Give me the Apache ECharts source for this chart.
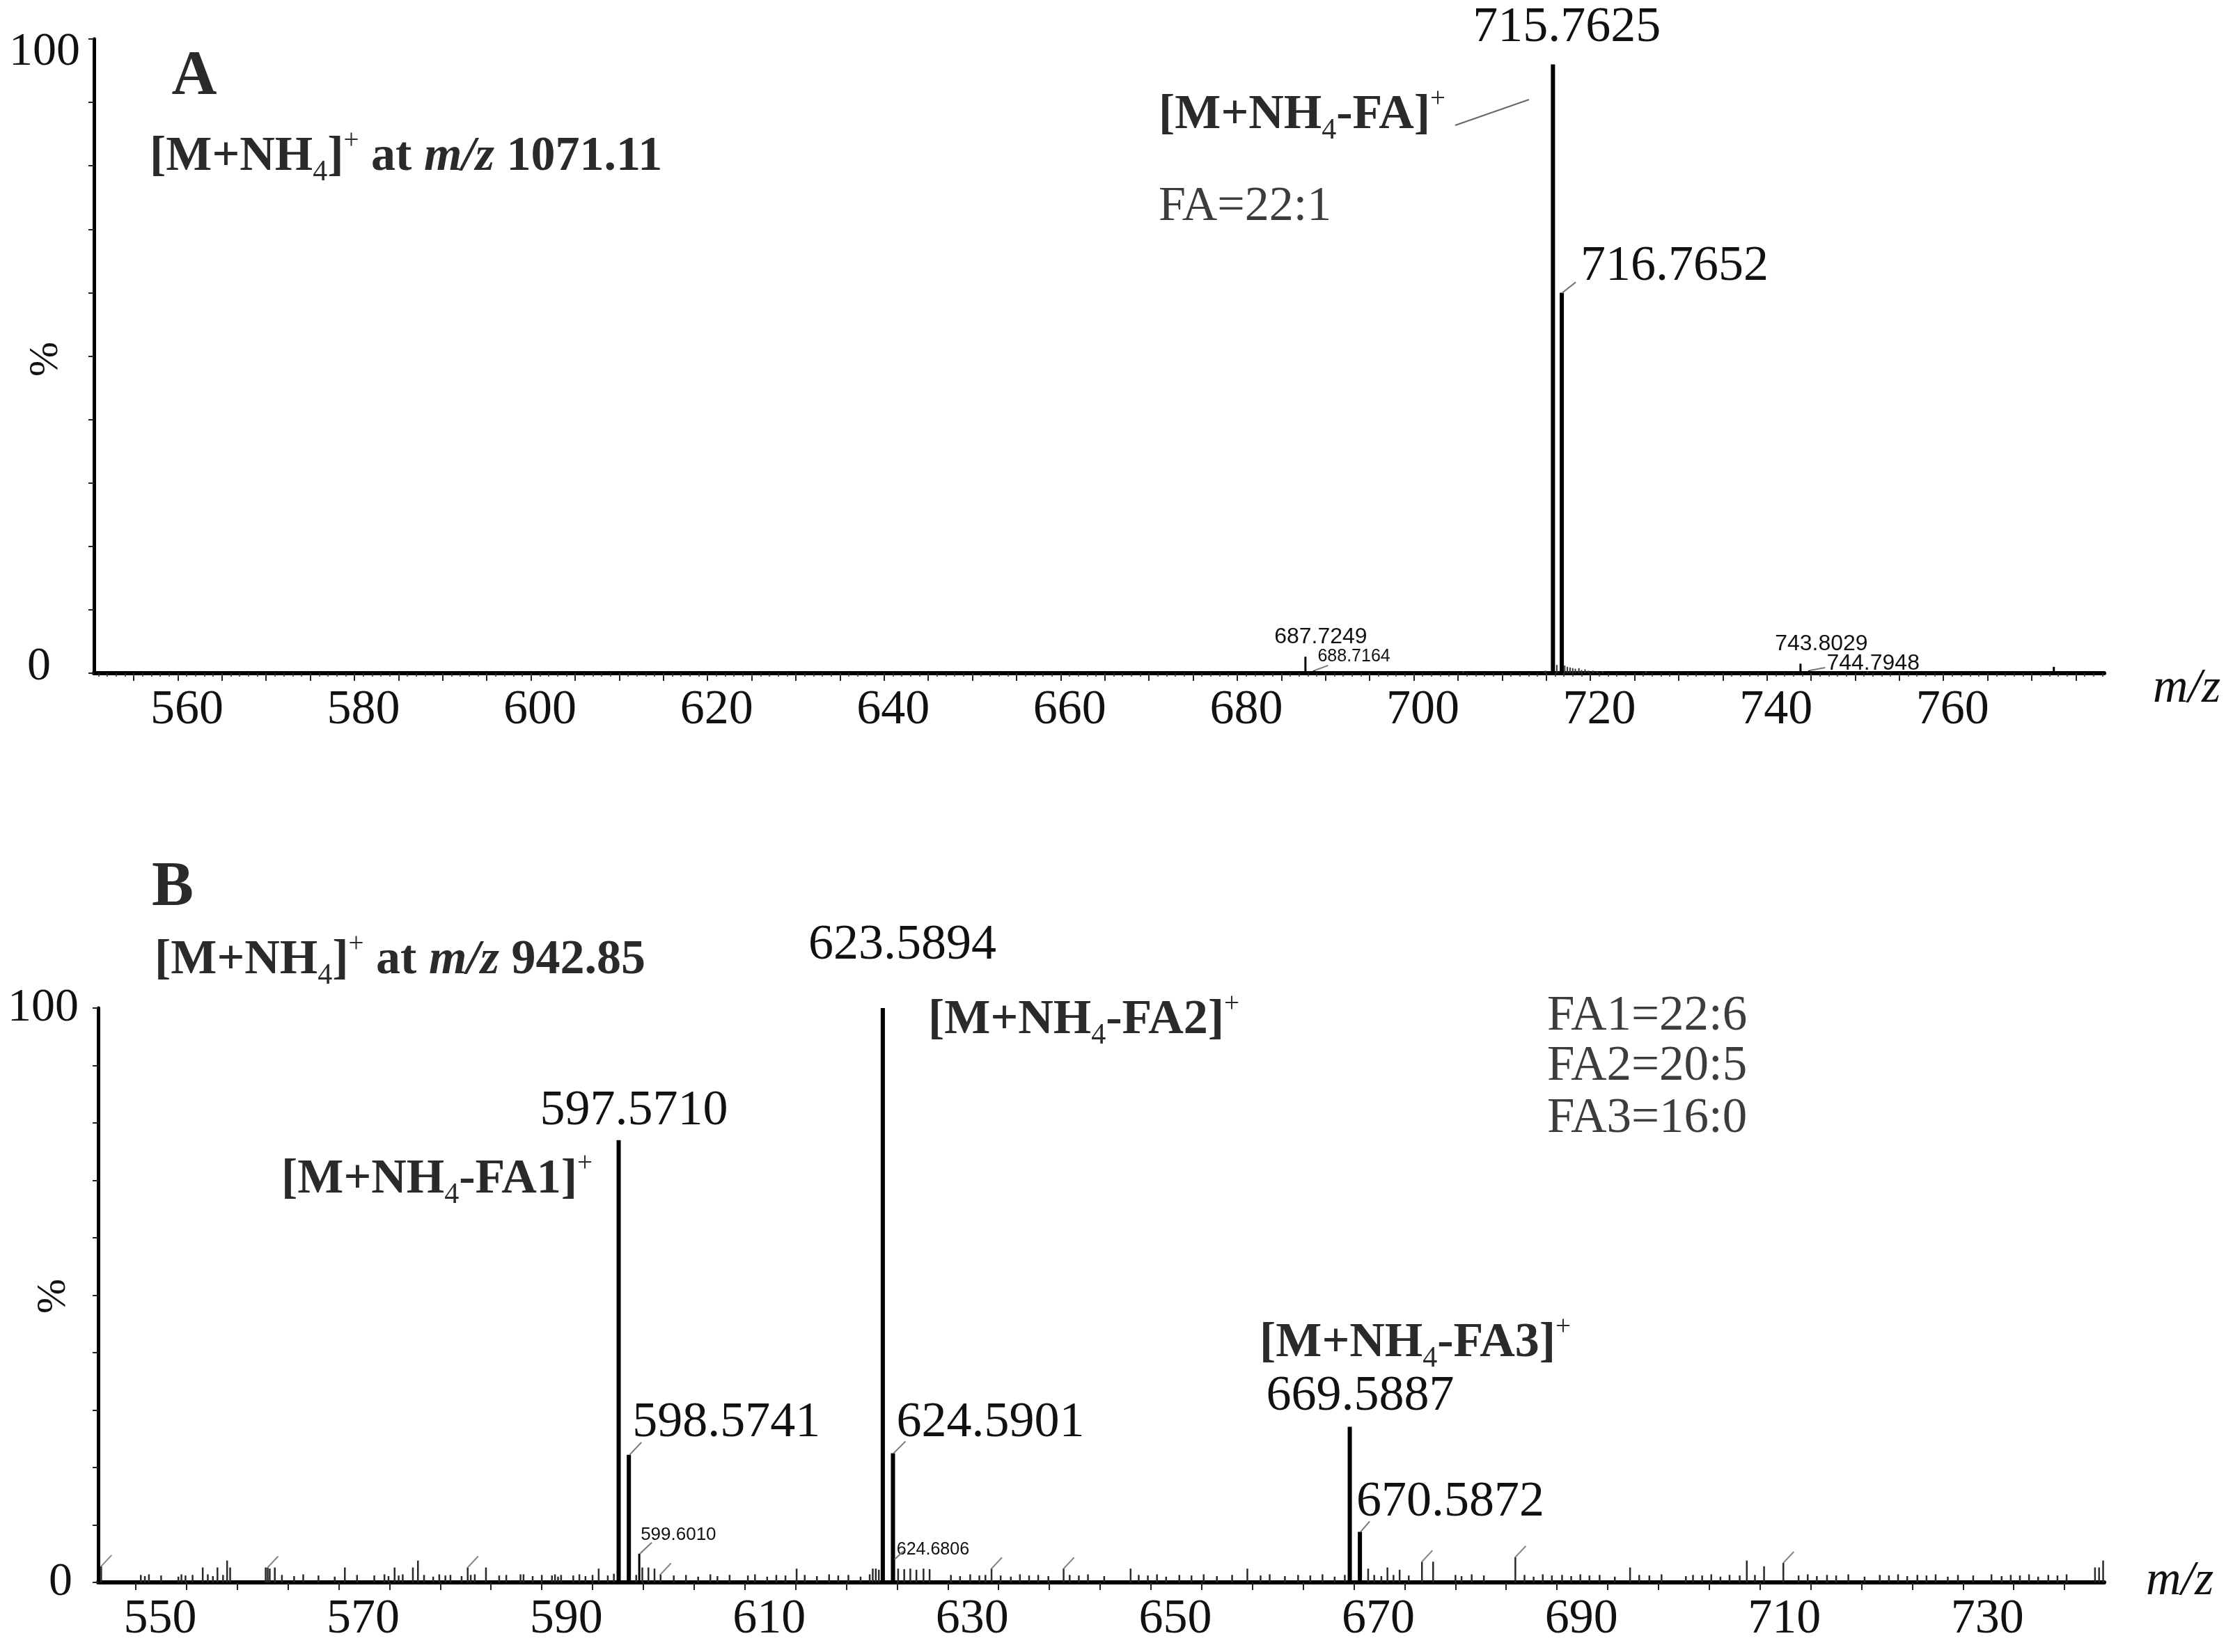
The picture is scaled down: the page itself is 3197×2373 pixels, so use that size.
<!DOCTYPE html>
<html><head><meta charset="utf-8">
<script src="https://cdn.jsdelivr.net/npm/echarts@6/dist/echarts.min.js"></script>
<style>html,body{margin:0;padding:0;background:#fff}#c{width:3197px;height:2373px}</style>
</head><body><div id="c"></div>
<script>
// ================= DATA =================
// Panel A axis
const xLabelsA = [560, 580, 600, 620, 640, 660, 680, 700, 720, 740, 760];
const xRangeA = [550.5, 778.2];
// Panel B axis
const xLabelsB = [550, 570, 590, 610, 630, 650, 670, 690, 710, 730];
const xRangeB = [546.3, 743.9];
const yLabels = [0, 100];

// Panel A peaks (m/z, relative intensity %)
const majorA_mz  = [715.7625, 716.7652];
const majorA_int = [96, 60];
const minorA_mz  = [687.7249, 688.7164, 743.8029, 744.7948, 772.5];
const minorA_int = [2.6, 0.45, 1.5, 0.45, 1.0];
const noiseA_mz  = [705.6, 714.9, 716.2, 717.1, 717.4, 717.7, 718.0, 718.3, 718.7, 719.0, 719.4, 719.8, 720.3, 720.8, 721.4, 726.3, 751.4];
const noiseA_int = [0.3, 0.4, 1.3, 1.2, 1.0, 0.9, 0.8, 0.7, 0.8, 0.5, 0.6, 0.4, 0.4, 0.3, 0.3, 0.3, 0.3];
const labelsA_mz   = [715.7625, 716.7652, 687.7249, 688.7164, 743.8029, 744.7948];
const labelsA_int  = [96, 60, 2.6, 0.45, 1.5, 0.45];
const labelsA_text = ['715.7625', '716.7652', '687.7249', '688.7164', '743.8029', '744.7948'];

// Panel B peaks
const majorB_mz  = [597.5710, 598.5741, 623.5894, 624.5901, 669.5887, 670.5872];
const majorB_int = [77, 22.2, 100, 22.5, 27.1, 8.8];
const minorB_mz  = [599.6010, 624.6806];
const minorB_int = [5.0, 4.0];
const noiseB_mz = [
  546.6, 550.5, 550.9, 551.3, 552.5, 554.2, 554.5, 554.9, 555.6, 556.6, 557.1, 557.6, 558.05, 558.6, 559.0, 559.3,
  562.8, 563.0, 563.2, 563.7, 564.4, 565.6, 566.5, 568.0, 569.6, 570.6, 571.8, 573.5, 574.5, 574.9, 575.5, 575.9,
  576.3, 577.3, 577.8, 578.4, 579.3, 579.9, 580.5, 581.0, 582.1, 582.7, 583.0, 583.4, 584.5, 585.8, 586.5, 587.9,
  588.2, 589.1, 590.0, 591.0, 591.3, 591.6, 591.9, 593.1, 593.7, 594.3, 595.0, 595.6, 596.5, 597.1, 599.3, 599.9,
  600.5, 601.1, 601.7, 603.0, 604.2, 605.4, 606.6, 607.3, 608.5, 610.3, 611.0, 612.2, 613.1, 614.0, 615.1, 615.9,
  617.1, 618.3, 619.2, 620.2, 621.4, 622.3, 622.6, 622.9, 623.2, 625.1, 625.7, 626.3, 626.9, 627.6, 628.2, 630.3,
  631.2, 632.2, 633.1, 633.7, 634.3, 635.2, 636.2, 637.1, 638.0, 638.9, 639.9, 641.4, 642.0, 642.9, 643.8, 645.4,
  648.0, 648.8, 649.7, 650.6, 651.5, 652.8, 654.0, 655.2, 656.5, 658.0, 659.5, 660.8, 661.7, 663.2, 664.5, 665.7,
  666.9, 668.1, 669.1, 671.4, 672.0, 672.7, 673.3, 673.9, 674.5, 675.4, 676.7, 677.8, 680.0, 680.6, 681.6, 682.8,
  685.9, 686.8, 687.7, 688.6, 689.5, 690.5, 691.4, 692.3, 693.2, 694.2, 695.7, 697.2, 698.1, 699.1, 700.3, 702.7,
  703.4, 704.3, 705.2, 706.1, 707.0, 708.0, 708.7, 709.5, 710.4, 712.3, 713.8, 714.7, 715.6, 716.6, 717.5, 718.7,
  720.3, 721.8, 722.7, 723.6, 724.5, 725.5, 726.4, 727.3, 728.5, 729.5, 731.0, 732.8, 733.8, 734.7, 735.6, 736.5,
  737.4, 738.4, 739.3, 740.2, 743.0, 743.4, 743.8
];
const noiseB_int = [
  2.8, 1.3, 1.1, 1.4, 1.2, 1.0, 1.4, 1.2, 1.3, 2.6, 1.4, 1.1, 2.6, 1.3, 3.8, 2.6,
  2.6, 2.6, 2.4, 2.6, 1.3, 1.1, 1.4, 1.2, 1.0, 2.6, 1.3, 1.2, 1.4, 1.1, 2.6, 1.2,
  1.4, 2.6, 3.8, 1.3, 1.0, 1.4, 1.2, 1.3, 1.1, 2.6, 1.3, 1.4, 2.6, 1.2, 1.3, 1.4,
  1.4, 1.1, 1.3, 1.2, 1.4, 1.0, 1.3, 1.2, 1.4, 1.1, 1.3, 2.4, 1.2, 1.5, 1.3, 2.6,
  2.6, 2.4, 1.4, 1.2, 1.3, 1.0, 1.4, 1.1, 1.3, 1.2, 1.4, 1.0, 1.3, 1.2, 2.4, 1.3,
  1.1, 1.4, 1.2, 1.3, 1.0, 1.4, 2.4, 2.4, 2.2, 2.4, 2.3, 2.4, 2.2, 2.4, 2.3, 1.3,
  1.1, 1.4, 1.2, 1.3, 2.4, 1.2, 1.0, 1.4, 1.2, 1.3, 1.1, 2.4, 1.3, 1.2, 1.4, 1.1,
  2.4, 1.3, 1.2, 1.4, 1.0, 1.3, 1.2, 1.4, 1.1, 1.3, 2.4, 1.2, 1.4, 1.1, 1.3, 1.2,
  1.4, 1.0, 1.3, 2.4, 1.3, 1.1, 2.6, 1.3, 2.2, 1.2, 3.6, 3.6, 1.3, 1.1, 1.4, 1.2,
  4.4, 1.3, 1.0, 1.4, 1.2, 1.3, 1.1, 1.4, 1.2, 1.3, 1.0, 2.6, 1.3, 1.2, 1.4, 1.1,
  1.3, 1.2, 1.4, 1.0, 1.3, 1.2, 3.8, 1.3, 2.8, 3.4, 1.2, 1.4, 1.1, 1.3, 1.2, 1.4,
  1.0, 1.3, 1.2, 1.4, 1.1, 1.3, 1.2, 1.4, 1.0, 1.3, 1.2, 1.4, 1.1, 1.3, 1.2, 1.4,
  1.0, 1.3, 1.2, 1.4, 2.6, 2.6, 3.8
];
const leadersB_mz = [546.6, 563.0, 582.7, 601.7, 634.3, 641.4, 676.7, 685.9, 712.3];
const labelsB_mz   = [597.5710, 598.5741, 599.6010, 623.5894, 624.5901, 624.6806, 669.5887, 670.5872];
const labelsB_int  = [77, 22.2, 5.0, 100, 22.5, 4.0, 27.1, 8.8];
const labelsB_text = ['597.5710', '598.5741', '599.6010', '623.5894', '624.5901', '624.6806', '669.5887', '670.5872'];

// ================= STYLE / LAYOUT =================
const SERIF = '"Liberation Serif", "Times New Roman", serif';
const SANS = '"Liberation Sans", Arial, sans-serif';
const gridA = {left: 135, right: 175, top: 56, bottom: 1406, containLabel: false, outerBoundsMode: 'none'};
const gridB = {left: 141, right: 175, top: 1448, bottom: 100, containLabel: false, outerBoundsMode: 'none'};

const labelLayoutA = [
  {dx: 20, dy: -52, align: 'center', size: 72, font: SERIF},
  {dx: 27, dy: -37, align: 'left', size: 72, font: SERIF, leader: [20, -15]},
  {dx: 22, dy: -28, align: 'center', size: 32, font: SANS},
  {dx: 5, dy: -20, align: 'left', size: 25, font: SANS, leader: [20, -7]},
  {dx: 30, dy: -28, align: 'center', size: 32, font: SANS},
  {dx: 25, dy: -10, align: 'left', size: 32, font: SANS, leader: [23, -4]}
];
const labelLayoutB = [
  {dx: 22, dy: -42, align: 'center', size: 72, font: SERIF},
  {dx: 5, dy: -46, align: 'left', size: 72, font: SERIF, leader: [18, -18]},
  {dx: 2, dy: -27, align: 'left', size: 26, font: SANS, leader: [18, -16]},
  {dx: 28, dy: -90, align: 'center', size: 72, font: SERIF},
  {dx: 5, dy: -43, align: 'left', size: 72, font: SERIF, leader: [18, -17]},
  {dx: 4, dy: -14, align: 'left', size: 25, font: SANS, leader: [14, -12]},
  {dx: 15, dy: -43, align: 'center', size: 72, font: SERIF},
  {dx: -5, dy: -42, align: 'left', size: 72, font: SERIF, leader: [14, -15]}
];

function zip(a, b) { return a.map((v, i) => [v, b[i]]); }
function range(a, b, s) { const r = []; for (let v = a; v <= b + 1e-9; v += s) r.push(+v.toFixed(3)); return r; }

function stick(width, color) {
  return function (params, api) {
    const x = api.value(0), y = api.value(1);
    const p0 = api.coord([x, 0]), p1 = api.coord([x, y]);
    return {type: 'line', shape: {x1: p0[0], y1: p0[1], x2: p1[0], y2: p1[1]},
      style: {stroke: color, lineWidth: width}};
  };
}
function labeler(texts, layout) {
  return function (params, api) {
    const i = params.dataIndex;
    const L = layout[i];
    const p = api.coord([api.value(0), api.value(1)]);
    const children = [{
      type: 'text', x: p[0] + L.dx, y: p[1] + L.dy,
      style: {text: texts[i], fontSize: L.size, fontFamily: L.font, fill: '#111',
        align: L.align, verticalAlign: 'middle'}
    }];
    if (L.leader) {
      children.push({type: 'line', shape: {x1: p[0] + 1, y1: p[1], x2: p[0] + L.leader[0], y2: p[1] + L.leader[1]},
        style: {stroke: '#777', lineWidth: 2}});
    }
    return {type: 'group', children};
  };
}
function leader(params, api) {
  const p = api.coord([api.value(0), api.value(1)]);
  return {type: 'line', shape: {x1: p[0], y1: p[1], x2: p[0] + 15, y2: p[1] - 16},
    style: {stroke: '#888', lineWidth: 2}};
}
function lookup(mzs, mzArr, intArr) {
  return mzs.map(m => { const i = mzArr.indexOf(m); return [m, intArr[i]]; });
}

function xAxisMain(gridIndex, rng, labels, tickVals, labelShift) {
  return {
    type: 'value', gridIndex, min: rng[0], max: rng[1], position: 'bottom',
    axisLine: {show: true, onZero: false, lineStyle: {color: '#000', width: 6}},
    axisTick: {show: true, customValues: tickVals, length: 11, lineStyle: {color: '#222', width: 2}},
    axisLabel: {show: true, customValues: labels, margin: 19, hideOverlap: false,
      formatter: v => '{v|' + v + '}',
      rich: {v: {fontSize: 70, fontFamily: SERIF, color: '#111', padding: [0, 0, 0, labelShift], lineHeight: 70}}},
    splitLine: {show: false}
  };
}
function xAxisMinor(gridIndex, rng, vals) {
  return {
    type: 'value', gridIndex, min: rng[0], max: rng[1], position: 'bottom',
    axisLine: {show: false}, axisLabel: {show: false}, splitLine: {show: false},
    axisTick: {show: true, customValues: vals, length: 5, lineStyle: {color: '#333', width: 1.5}}
  };
}
function yAxis(gridIndex, margin, rich) {
  return {
    type: 'value', gridIndex, min: 0, max: 100, interval: 10,
    axisLine: {show: true, lineStyle: {color: '#000', width: 5}},
    axisTick: {show: true, length: 8, lineStyle: {color: '#222', width: 2}},
    splitLine: {show: false},
    axisLabel: {show: true, margin, align: 'center',
      formatter: v => v === 100 ? '{t|100}' : (v === 0 ? '{z|0}' : ''), rich}
  };
}
const yFont = {fontSize: 68, fontFamily: SERIF, color: '#111'};

function richLabel(x, y, parts, size) {
  const lh = size + 16;
  return {
    type: 'text', x, y, z: 100,
    style: {
      text: parts, verticalAlign: 'middle', align: 'left',
      rich: {
        b: {fontSize: size, fontFamily: SERIF, fontWeight: 'bold', fill: '#2a2a2a', lineHeight: lh, verticalAlign: 'middle'},
        bi: {fontSize: size, fontFamily: SERIF, fontWeight: 'bold', fontStyle: 'italic', fill: '#2a2a2a', lineHeight: lh, verticalAlign: 'middle'},
        sub: {fontSize: Math.round(size * 0.6), fontFamily: SERIF, fill: '#2a2a2a', verticalAlign: 'bottom', lineHeight: Math.round(size * 0.6)},
        sup: {fontSize: Math.round(size * 0.55), fontFamily: SERIF, fill: '#2a2a2a', verticalAlign: 'top', lineHeight: Math.round(size * 0.55)}
      }
    }
  };
}
function plainText(x, y, text, size, color, weight, align, style) {
  return {type: 'text', x, y, z: 100,
    style: {text, fontSize: size, fontFamily: SERIF, fontWeight: weight || 'normal', fontStyle: style || 'normal', fill: color,
      align: align || 'left', verticalAlign: 'middle'}};
}
function yName(x, y) {
  return {type: 'text', x, y, rotation: Math.PI / 2, z: 100,
    style: {text: '%', fontSize: 60, fontFamily: SERIF, fill: '#111', align: 'center', verticalAlign: 'middle'}};
}

const option = {
  animation: false,
  backgroundColor: '#fff',
  grid: [gridA, gridB],
  xAxis: [
    xAxisMain(0, xRangeA, xLabelsA, range(555, 775, 5), 26),
    xAxisMinor(0, xRangeA, range(551, 778, 1)),
    xAxisMain(1, xRangeB, xLabelsB, range(550, 740, 5), 70)
  ],
  yAxis: [
    yAxis(0, 71, {t: Object.assign({padding: [38, 0, 0, 0]}, yFont), z: Object.assign({padding: [0, 16, 18, 0]}, yFont)}),
    yAxis(1, 79, {t: Object.assign({padding: [0, 0, 0, 0]}, yFont), z: Object.assign({padding: [0, 0, 0, 50]}, yFont)})
  ],
  series: [
    {type: 'custom', xAxisIndex: 0, yAxisIndex: 0, renderItem: stick(2, '#333'), data: zip(noiseA_mz, noiseA_int), z: 2},
    {type: 'custom', xAxisIndex: 0, yAxisIndex: 0, renderItem: stick(3, '#000'), data: zip(minorA_mz, minorA_int), z: 3},
    {type: 'custom', xAxisIndex: 0, yAxisIndex: 0, renderItem: stick(6, '#000'), data: zip(majorA_mz, majorA_int), z: 4},
    {type: 'custom', xAxisIndex: 0, yAxisIndex: 0, renderItem: labeler(labelsA_text, labelLayoutA), data: zip(labelsA_mz, labelsA_int), z: 5},
    {type: 'custom', xAxisIndex: 2, yAxisIndex: 1, renderItem: stick(2.5, '#2a2a2a'), data: zip(noiseB_mz, noiseB_int), z: 2},
    {type: 'custom', xAxisIndex: 2, yAxisIndex: 1, renderItem: leader, data: lookup(leadersB_mz, noiseB_mz, noiseB_int), z: 2},
    {type: 'custom', xAxisIndex: 2, yAxisIndex: 1, renderItem: stick(3, '#000'), data: zip(minorB_mz, minorB_int), z: 3},
    {type: 'custom', xAxisIndex: 2, yAxisIndex: 1, renderItem: stick(6, '#000'), data: zip(majorB_mz, majorB_int), z: 4},
    {type: 'custom', xAxisIndex: 2, yAxisIndex: 1, renderItem: labeler(labelsB_text, labelLayoutB), data: zip(labelsB_mz, labelsB_int), z: 5}
  ],
  graphic: [
    yName(66, 516),
    yName(77, 1862),
    plainText(279, 112, 'A', 90, '#2a2a2a', 'bold', 'center'),
    richLabel(215, 226, '{b|[M+NH}{sub|4}{b|]}{sup|+}{b| at }{bi|m/z}{b| 1071.11}', 70),
    richLabel(1664, 166, '{b|[M+NH}{sub|4}{b|-FA]}{sup|+}', 70),
    {type: 'line', z: 100, shape: {x1: 2090, y1: 180, x2: 2196, y2: 143}, style: {stroke: '#666', lineWidth: 2}},
    plainText(1664, 298, 'FA=22:1', 70, '#3c3c3c'),
    plainText(3092, 990, 'm/z', 70, '#111', 'normal', 'left', 'italic'),
    plainText(248, 1277, 'B', 90, '#2a2a2a', 'bold', 'center'),
    richLabel(222, 1380, '{b|[M+NH}{sub|4}{b|]}{sup|+}{b| at }{bi|m/z}{b| 942.85}', 70),
    richLabel(1333, 1466, '{b|[M+NH}{sub|4}{b|-FA2]}{sup|+}', 70),
    richLabel(404, 1695, '{b|[M+NH}{sub|4}{b|-FA1]}{sup|+}', 70),
    richLabel(1809, 1930, '{b|[M+NH}{sub|4}{b|-FA3]}{sup|+}', 70),
    plainText(2222, 1460, 'FA1=22:6', 71, '#3c3c3c'),
    plainText(2222, 1532, 'FA2=20:5', 71, '#3c3c3c'),
    plainText(2222, 1607, 'FA3=16:0', 71, '#3c3c3c'),
    plainText(3082, 2272, 'm/z', 70, '#111', 'normal', 'left', 'italic')
  ]
};

const chart = echarts.init(document.getElementById('c'), null, {renderer: 'canvas', width: 3197, height: 2373});
chart.setOption(option);
</script>
</body></html>
